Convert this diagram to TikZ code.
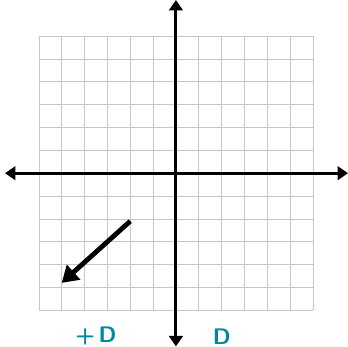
\documentclass[tikz,border=0pt]{standalone}
\usepackage{xcolor}
\usepackage{tikz}
\usetikzlibrary{arrows.meta}
\usetikzlibrary{positioning}

\definecolor{inkteal}{RGB}{0,135,155}

\begin{document}
\begin{tikzpicture}[
  x=0.5cm, y=0.5cm,
  gridline/.style={gray!45,line width=0.4pt},
  axis/.style={line width=1.9pt,{Triangle[width=8.5pt,length=6.5pt]}-{Triangle[width=8.5pt,length=6.5pt]}},
  vec/.style={line width=3pt,-{Triangle[width=12pt,length=10pt]}},
  note/.style={inkteal,inner sep=0pt,font=\fontsize{14}{16}\selectfont\sffamily\bfseries},
]
\useasboundingbox (-7.70,-7.60) rectangle (7.53,7.58);

% grid
\draw[gridline,step=1] (-6,-6) grid (6,6);

% axes
\coordinate (L) at (-7.48,0);
\coordinate (R) at (7.53,0);
\coordinate (T) at (0,7.58);
\coordinate (B) at (0,-7.58);
\draw[axis] (L) -- (R);
\draw[axis] (B) -- (T);

% vector
\coordinate (vs) at (-2,-2.1);
\coordinate (ve) at (-5,-4.8);
\draw[vec] (vs) -- (ve);

% handwriting at the bottom
\node[note,anchor=north west] (plusD) at (-4.4,-6.7) {+\,D};
\node[note,anchor=north west] (D) at (1.6,-6.8) {D};
\end{tikzpicture}
\end{document}
